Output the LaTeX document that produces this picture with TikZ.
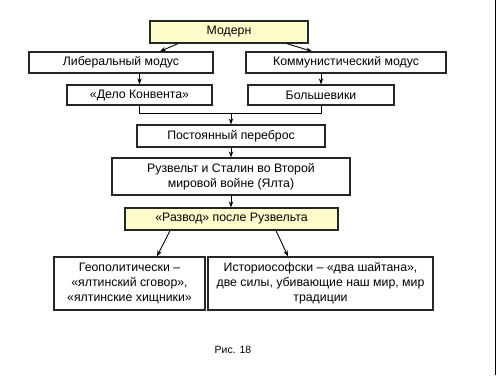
\documentclass[tikz,border=0pt]{standalone}
\usepackage{fontspec}
\setmainfont{Liberation Sans}
\usetikzlibrary{arrows.meta,calc}
\begin{document}
\begin{tikzpicture}[x=1pt,y=1pt,
  box/.style={draw=black!85, line width=1.3pt, fill=white, align=center, inner sep=1pt,
    font=\fontsize{12.3}{15}\selectfont},
  ybox/.style={box, fill=yellow!20},
  arr/.style={-{Stealth[length=6pt,width=4.5pt]}, line width=0.9pt},
  ln/.style={line width=0.9pt}]
\useasboundingbox (0,0) rectangle (500,-375);
\fill[white] (0,0) rectangle (500,-375);
\draw[line width=1pt] (495,0) -- (495,-375);

\node[ybox, minimum width=158, minimum height=22] (modern) at (229,-32) {Модерн};
\node[box, minimum width=184, minimum height=21] (lib) at (121,-62.5) {Либеральный модус};
\node[box, minimum width=200, minimum height=21] (comm) at (346,-62.5) {Коммунистический модус};
\node[box, minimum width=145, minimum height=20] (delo) at (139.5,-95) {«Дело Конвента»};
\node[box, minimum width=146, minimum height=20] (bolsh) at (321,-95) {Большевики};
\node[box, minimum width=188, minimum height=22] (post) at (231,-136) {Постоянный переброс};
\node[box, minimum width=238, minimum height=37] (ruz) at (231,-176.5) {Рузвельт и Сталин во Второй\\мировой войне (Ялта)};
\node[ybox, minimum width=213, minimum height=22] (razv) at (231.5,-219) {«Развод» после Рузвельта};
\node[box, minimum width=151, minimum height=53] (geo) at (129.5,-283.5) {Геополитически –\\«ялтинский сговор»,\\«ялтинские хищники»};
\node[box, minimum width=225, minimum height=53] (ist) at (320.5,-283.5) {Историософски – «два шайтана»,\\две силы, убивающие наш мир, мир\\традиции};
\node[font=\fontsize{10.5}{12}\selectfont] (cap) at (233,-350) {Рис. 18};

\draw[arr] ([xshift=-51]modern.south) -- ([xshift=39]lib.north);
\draw[arr] ([xshift=58]modern.south) -- ([xshift=-34]comm.north);
\draw[arr] (delo.north |- lib.south) -- (delo.north);
\draw[arr] (bolsh.north |- comm.south) -- (bolsh.north);
\draw[ln] (delo.south) -- ++(0,-8) coordinate (m1) -| (bolsh.south);
\coordinate (mj) at (post.north |- m1);
\draw[arr] (mj) -- (post.north);
\draw[arr] (post.south) -- (post.south |- ruz.north);
\draw[arr] (ruz.south) -- (ruz.south |- razv.north);
\draw[arr] ([xshift=-61.5]razv.south) -- ([xshift=27.5]geo.north);
\draw[arr] ([xshift=44.5]razv.south) -- ([xshift=-32.5]ist.north);
\end{tikzpicture}
\end{document}
